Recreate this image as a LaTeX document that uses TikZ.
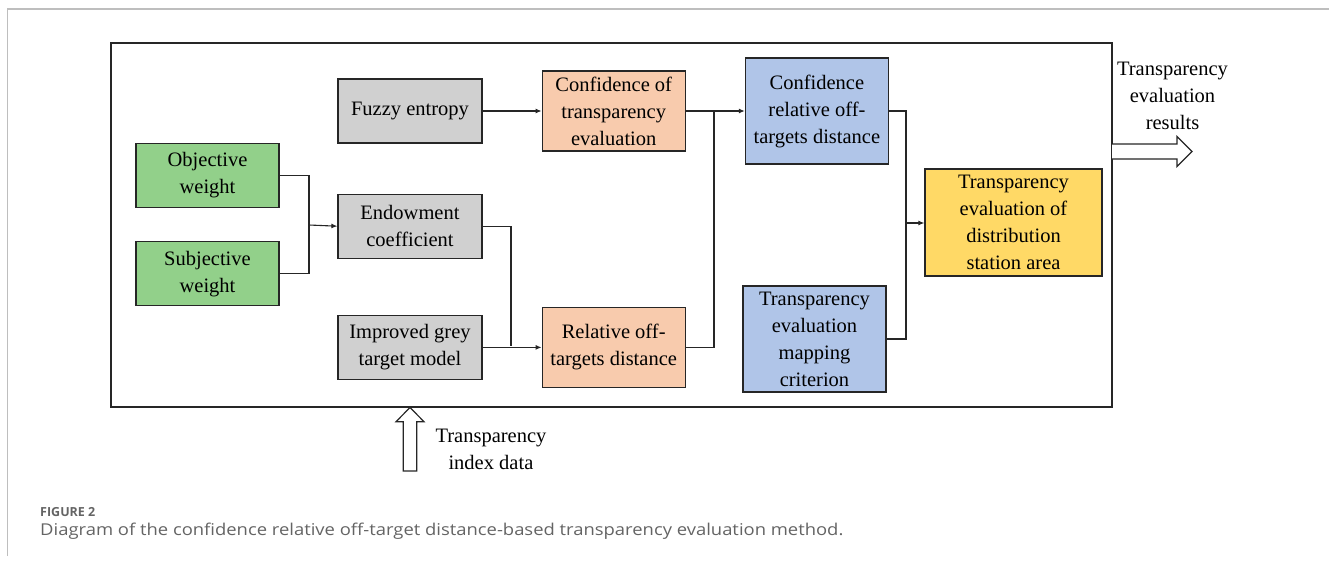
\documentclass[tikz,border=0pt]{standalone}
\usepackage{fontspec}
\setmainfont{Liberation Serif}
\newfontfamily\boxfont{Liberation Serif}
\newfontfamily\capfont{Open Sans}[FakeStretch=1.13]
\newfontfamily\fignofont{Open Sans}
\usetikzlibrary{positioning,calc,arrows.meta}

\definecolor{boxgreen}{RGB}{146,208,138}
\definecolor{boxgrey}{RGB}{208,208,208}
\definecolor{boxsalmon}{RGB}{248,203,173}
\definecolor{boxblue}{RGB}{176,197,232}
\definecolor{boxyellow}{RGB}{255,217,102}
\definecolor{lineblack}{RGB}{38,38,38}
\definecolor{framegrey}{RGB}{190,190,190}
\definecolor{capgrey}{RGB}{100,100,100}

\begin{document}
\begin{tikzpicture}[x=1pt,y=-1pt]
  \useasboundingbox (0,0) rectangle (1329,565);
  % page frame
  \draw [framegrey, line width=1.4pt] (7.5,556) -- (7.5,9) -- (1329,9);

  % outer frame
  \node [draw=lineblack, line width=1.3pt, minimum width=1001pt,
    minimum height=364pt, inner sep=0pt] (outer) at (611.5,225) {};

  \begin{scope}[
    every node/.style={
      rectangle,
      draw=lineblack,
      line width=1.2pt,
      align=center,
      inner sep=0pt,
      font=\boxfont\fontsize{20.5}{27}\selectfont,
      minimum width=143pt,
    },
    gbox/.style={fill=boxgreen, minimum height=64pt},
    greybox/.style={fill=boxgrey, minimum width=144pt, minimum height=64pt},
    sbox/.style={fill=boxsalmon, minimum height=80pt},
    bbox/.style={fill=boxblue, minimum height=106pt},
    ]
    % weights
    \node [gbox] (obj) at (207.5,175.5) {Objective\\weight};
    \node [gbox, below=33pt of obj] (subj) {Subjective\\weight};

    % grey column
    \node [greybox] (fuzzy) at (410,111) {Fuzzy entropy};
    \node [greybox, below=50pt of fuzzy] (endow) {Endowment\\coefficient};
    \node [greybox, below=56pt of endow] (grey) {Improved grey\\target model};

    % salmon column
    \node [sbox, right=59pt of fuzzy] (conf) {Confidence of\\transparency\\evaluation};
    \node [sbox, right=59pt of grey] (rel) {Relative off-\\targets distance};

    % blue column
    \node [bbox, right=59pt of conf] (crod) {Confidence\\relative off-\\targets distance};
    \node [bbox] (mapc) at (814.5,339) {Transparency\\evaluation\\mapping\\criterion};

    % result
    \node [fill=boxyellow, minimum width=177pt, minimum height=107pt] (area)
      at (1013.5,222.5) {Transparency\\evaluation of\\distribution\\station area};
  \end{scope}

  \begin{scope}[
    wire/.style={draw=lineblack, line width=1.1pt},
    flow/.style={wire, -{Latex[length=6pt,width=5pt]}},
    fatarrow/.style={draw=lineblack, line width=1.2pt, fill=white},
    every node/.style={font=\boxfont\fontsize{20.5}{27}\selectfont},
    ]
    % Path weights
    \coordinate (jw) at (309,225);
    \draw [wire] (obj.east) -| (jw);
    \draw [wire] (subj.east) -| (jw);
    \draw [flow] (jw) -- (endow.west);

    % Path grey column
    \draw [flow] (fuzzy.east) -- (conf.west |- fuzzy.east);
    \coordinate (je) at (511,345.5);
    \draw [wire] (endow.east) -| (je);
    \draw [flow] (grey.east) -- (rel.west |- grey.east);

    % Path salmon column
    \coordinate (jc) at (714,111);
    \draw [wire] (rel.east) -| (jc);
    \draw [flow] (conf.east) -- (crod.west |- conf.east);

    % Path blue column
    \coordinate (jb) at (906,223);
    \draw [wire] (crod.east) -| (jb) |- (mapc.east);
    \draw [flow] (jb) -- (area.west |- jb);

    % output arrow
    \draw [fatarrow] (1112,144) -- (1177,144) -- (1177,136.5) -- (1192,151.5)
      -- (1177,166.5) -- (1177,159) -- (1112,159);
    \node [align=center] (result) at (1172.5,96)
      {Transparency\\evaluation\\results};

    % input arrow
    \draw [fatarrow] (403.3,471) -- (403.3,421.7) -- (396,421.7) -- (410,407.5)
      -- (424,421.7) -- (416.7,421.7) -- (416.7,471) -- cycle;
    \node [align=center, anchor=west] (data) at (432,449)
      {Transparency\\index data};
  \end{scope}

  % caption
  \node [anchor=west, inner sep=0pt, text=capgrey,
    font=\fignofont\bfseries\fontsize{12.5}{15}\selectfont] (figno) at (40,512.5) {FIGURE 2};
  \node [anchor=west, inner sep=0pt, text=capgrey,
    font=\capfont\fontsize{16.3}{18}\selectfont] (caption) at (40,531.5)
    {Diagram of the confidence relative off-target distance-based transparency evaluation method.};
\end{tikzpicture}
\end{document}
